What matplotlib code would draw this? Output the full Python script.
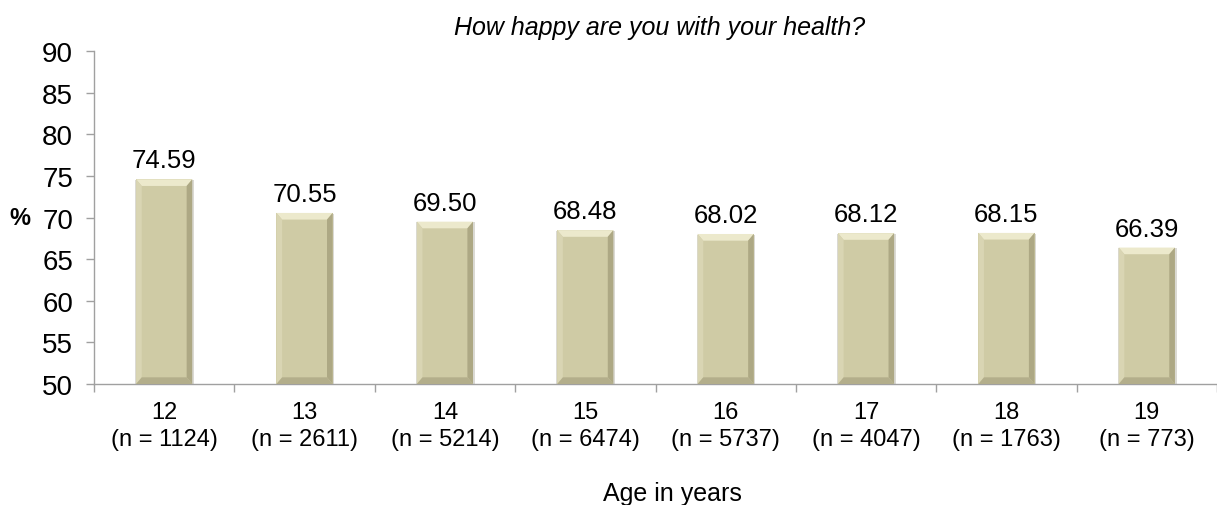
import matplotlib
matplotlib.use("Agg")
import matplotlib.pyplot as plt
from matplotlib.patches import Polygon

plt.rcParams['font.family'] = ['Liberation Sans', 'DejaVu Sans']

ages = ['12', '13', '14', '15', '16', '17', '18', '19']
counts = [1124, 2611, 5214, 6474, 5737, 4047, 1763, 773]
values = [74.59, 70.55, 69.50, 68.48, 68.02, 68.12, 68.15, 66.39]

face = '#CFCBA5'
light = '#ECE9CC'
dark = '#ADA884'
darker = '#B3AE8B'

fig = plt.figure(figsize=(12.17, 5.06), dpi=100)
ax = fig.add_axes([94 / 1217, 121 / 506, 1.0 - 94 / 1217, 333 / 506])

x = list(range(len(ages)))
bars = ax.bar(x, [v - 50 for v in values], bottom=50, width=0.40,
              color=face, edgecolor='none', zorder=2)

# bevel effect drawn from each bar's own geometry
dx, dy = 0.04, 0.8
for b in bars:
    x0, y0 = b.get_x(), b.get_y()
    x1, y1 = x0 + b.get_width(), y0 + b.get_height()
    # soft shadow
    ax.add_patch(Polygon([(x0 - 0.006, y0), (x1 + 0.012, y0), (x1 + 0.012, y1 - 0.1),
                          (x0 - 0.006, y1 - 0.1)], closed=True,
                         color='#B8B6AA', alpha=0.5, zorder=1.5, lw=0))
    ax.add_patch(Polygon([(x0, y1), (x1, y1), (x1 - dx, y1 - dy), (x0 + dx, y1 - dy)],
                         closed=True, color=light, zorder=3, lw=0))
    ax.add_patch(Polygon([(x0, y0), (x0, y1), (x0 + dx, y1 - dy), (x0 + dx, y0 + dy)],
                         closed=True, color='#D9D5B3', zorder=3, lw=0))
    ax.add_patch(Polygon([(x1, y0), (x1, y1), (x1 - dx, y1 - dy), (x1 - dx, y0 + dy)],
                         closed=True, color=dark, zorder=3, lw=0))
    ax.add_patch(Polygon([(x0, y0), (x1, y0), (x1 - dx, y0 + dy), (x0 + dx, y0 + dy)],
                         closed=True, color=darker, zorder=3, lw=0))

for xi, v in zip(x, values):
    ax.annotate(f'{v:.2f}', (xi, v), xytext=(0, 5), textcoords='offset points',
                ha='center', va='bottom', fontsize=18.5)

ax.set_ylim(50, 90)
ax.set_yticks(range(50, 91, 5))
ax.set_xlim(-0.5, 7.41)

# x ticks sit at category boundaries, labels at the centers
ax.set_xticks([i - 0.5 for i in range(len(ages) + 1)])
ax.set_xticklabels([])
ax.set_xticks(x, minor=True)
ax.set_xticklabels([f'{a}\n(n = {n})' for a, n in zip(ages, counts)], minor=True,
                   fontsize=17, linespacing=1.3)
ax.tick_params(axis='x', which='minor', length=0, pad=12)
ax.tick_params(axis='x', which='major', length=6, color='#A0A0A0', width=1)
ax.tick_params(axis='y', length=6, color='#A0A0A0', width=1, labelsize=20, pad=9)

for s in ['top', 'right']:
    ax.spines[s].set_visible(False)
for s in ['left', 'bottom']:
    ax.spines[s].set_color('#A0A0A0')
    ax.spines[s].set_linewidth(1)

ax.set_ylabel('%', rotation=0, fontsize=17, fontweight='bold', va='center')
ax.yaxis.set_label_coords(-0.066, 0.5)

fig.text(660 / 1217, 1 - 28 / 506, 'How happy are you with your health?',
         ha='center', va='center', fontsize=18, style='italic')
fig.text(672 / 1217, 1 - 494 / 506, 'Age in years', ha='center', va='center', fontsize=18)

fig.savefig('out.png', dpi=100)
